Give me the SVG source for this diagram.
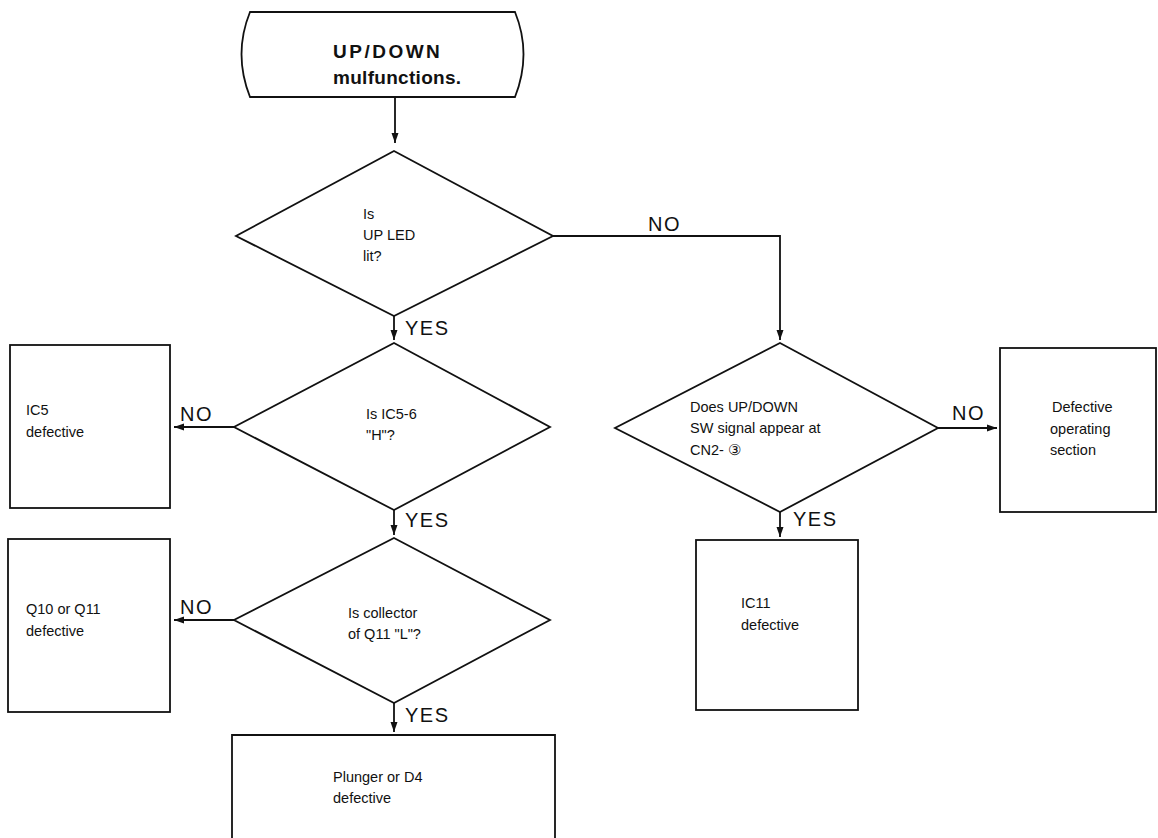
<svg xmlns="http://www.w3.org/2000/svg" width="1158" height="838" viewBox="0 0 1158 838">
<style>
.s{fill:#fff;stroke:#111;stroke-width:1.8}
.t{font-family:"Liberation Sans",Arial,sans-serif;font-size:14.5px;fill:#111}
.b{font-family:"Liberation Sans",Arial,sans-serif;font-size:19px;font-weight:bold;fill:#111}
.l{font-family:"Liberation Sans",Arial,sans-serif;font-size:20px;letter-spacing:1.5px;fill:#111}
.c{fill:none;stroke:#111;stroke-width:1.8}
</style>
<defs>
<marker id="ah" viewBox="0 0 10 10" refX="10" refY="5" markerWidth="10" markerHeight="10" markerUnits="userSpaceOnUse" orient="auto">
<path d="M0,1.5 L10,5 L0,8.5 Z" fill="#111"/>
</marker>
</defs>
<rect width="1158" height="838" fill="#fff"/>
<g id="start">
<path class="s" d="M250,12 L515,12 Q532,54 515,97 L250,97 Q233,54 250,12 Z"/>
<text class="b" x="333" y="58" letter-spacing="2.5">UP/DOWN</text>
<text class="b" x="333" y="84" letter-spacing="0.3">mulfunctions.</text>
</g>
<g id="q1">
<path class="s" d="M394,151 L553,236 L394,316 L236,236 Z"/>
<text class="t" x="363" y="219">Is</text>
<text class="t" x="363" y="240">UP LED</text>
<text class="t" x="363" y="261">lit?</text>
</g>
<g id="q2">
<path class="s" d="M394,343 L550,427 L394,510 L234,427 Z"/>
<text class="t" x="366" y="419">Is IC5-6</text>
<text class="t" x="366" y="440">"H"?</text>
</g>
<g id="q3">
<path class="s" d="M394,538 L550,620 L394,703 L234,620 Z"/>
<text class="t" x="348" y="618">Is collector</text>
<text class="t" x="348" y="639">of Q11 "L"?</text>
</g>
<g id="q4">
<path class="s" d="M780,343 L938,428 L780,512 L615,428 Z"/>
<text class="t" x="690" y="412">Does UP/DOWN</text>
<text class="t" x="690" y="433">SW signal appear at</text>
<text class="t" x="690" y="455">CN2- ③</text>
</g>
<g id="r1">
<rect class="s" x="10" y="345" width="160" height="163"/>
<text class="t" x="26" y="415">IC5</text>
<text class="t" x="26" y="437">defective</text>
</g>
<g id="r2">
<rect class="s" x="8" y="539" width="162" height="173"/>
<text class="t" x="26" y="614">Q10 or Q11</text>
<text class="t" x="26" y="636">defective</text>
</g>
<g id="r3">
<path class="s" d="M232,838 L232,735 L555,735 L555,838"/>
<text class="t" x="333" y="782">Plunger or D4</text>
<text class="t" x="333" y="803">defective</text>
</g>
<g id="r4">
<rect class="s" x="1000" y="348" width="156" height="164"/>
<text class="t" x="1052" y="412">Defective</text>
<text class="t" x="1050" y="434">operating</text>
<text class="t" x="1050" y="455">section</text>
</g>
<g id="r5">
<rect class="s" x="696" y="540" width="162" height="170"/>
<text class="t" x="741" y="608">IC11</text>
<text class="t" x="741" y="630">defective</text>
</g>
<g id="connectors">
<path class="c" d="M395,97 L395,143" marker-end="url(#ah)"/>
<path class="c" d="M553,236 L780,236 L780,340" marker-end="url(#ah)"/>
<path class="c" d="M394,316 L394,340" marker-end="url(#ah)"/>
<path class="c" d="M234,427 L174,427" marker-end="url(#ah)"/>
<path class="c" d="M394,510 L394,535" marker-end="url(#ah)"/>
<path class="c" d="M234,620 L174,620" marker-end="url(#ah)"/>
<path class="c" d="M394,703 L394,732" marker-end="url(#ah)"/>
<path class="c" d="M938,428 L997,428" marker-end="url(#ah)"/>
<path class="c" d="M780,512 L780,537" marker-end="url(#ah)"/>
<text class="l" x="648" y="231">NO</text>
<text class="l" x="405" y="335">YES</text>
<text class="l" x="180" y="421">NO</text>
<text class="l" x="405" y="527">YES</text>
<text class="l" x="180" y="614">NO</text>
<text class="l" x="405" y="722">YES</text>
<text class="l" x="952" y="420">NO</text>
<text class="l" x="793" y="526">YES</text>
</g>
</svg>
